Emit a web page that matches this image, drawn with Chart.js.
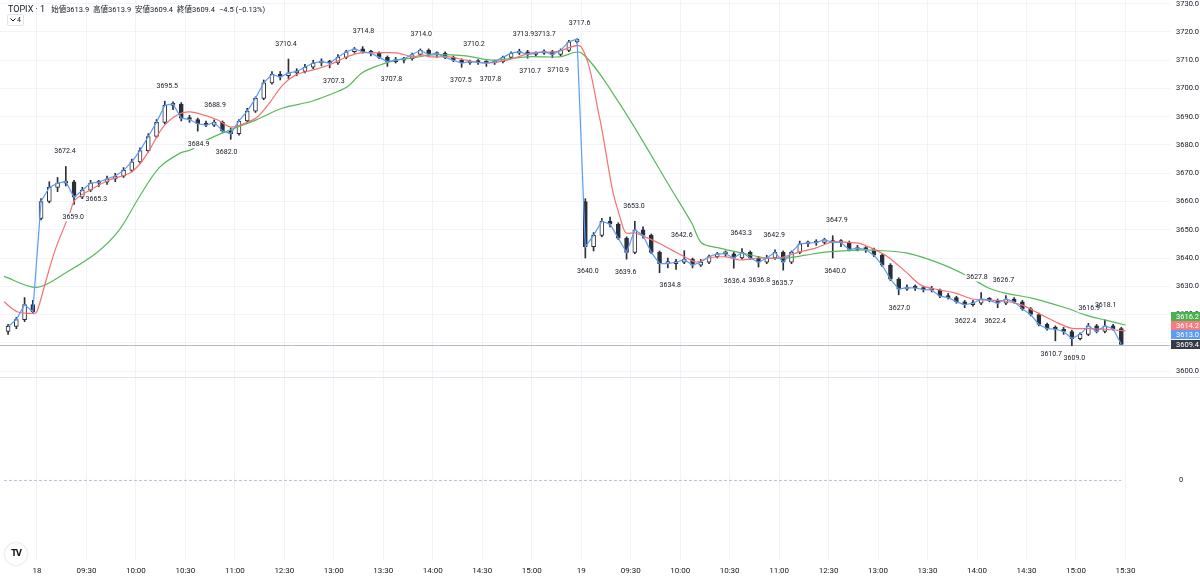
<!DOCTYPE html>
<html>
<head>
<meta charset="utf-8">
<script src="https://cdn.jsdelivr.net/npm/chart.js@4.4.1/dist/chart.umd.min.js"></script>
<style>
html, body { margin: 0; padding: 0; background: #ffffff; }
#wrap { position: relative; width: 1200px; height: 584px; overflow: hidden; }
#chart { position: absolute; left: 0; top: 0; }
#legend { position: absolute; left: 8px; top: 3px; font-family: Roboto, "Noto Sans CJK JP", sans-serif; font-size: 7.5px; color: #131722; white-space: nowrap; }
#legend .sym { font-size: 9px; margin-right: 6px; }
#legend .k { color: #131722; }
#legend .v { color: #131722; margin-right: 2px; }
#fold { position: absolute; left: 7px; top: 14px; width: 15px; height: 10px; border: 1px solid #e0e3eb; border-radius: 2px; font: 7px Roboto, sans-serif; color: #131722; line-height: 10px; }
#fold svg { position: absolute; left: 2px; top: 3px; }
#fold span { position: absolute; left: 9px; top: 0; }
#logo { position: absolute; left: 5px; top: 543px; width: 22px; height: 22px; border-radius: 50%; background: #fff; box-shadow: 0 0 2px rgba(0,0,0,0.25); font: bold 8px "DejaVu Sans", sans-serif; color: #131722; text-align: center; line-height: 22px; letter-spacing: -1px; }
</style>
</head>
<body>
<div id="wrap">
  <canvas id="chart" width="1200" height="584"></canvas>
  <div id="legend"><span class="sym">TOPIX · 1</span><span class="k">始値</span><span class="v">3613.9</span> <span class="k">高値</span><span class="v">3613.9</span> <span class="k">安値</span><span class="v">3609.4</span> <span class="k">終値</span><span class="v">3609.4</span> <span class="v">−4.5 (−0.13%)</span></div>
  <div id="fold"><svg width="6" height="4"><polyline points="0.5,0.5 3,3 5.5,0.5" fill="none" stroke="#131722" stroke-width="1"/></svg><span>4</span></div>
  <div id="logo">TV</div>
</div>
<script>
const Chart = window.Chart;

// time axis: minutes of trading from 18th 09:00, one slot = 30 min (lunch break squeezed out)
var tickLabels = ['18', '09:30', '10:00', '10:30', '11:00', '12:30', '13:00', '13:30', '14:00', '14:30', '15:00',
    '19', '09:30', '10:00', '10:30', '11:00', '12:30', '13:00', '13:30', '14:00', '14:30', '15:00', '15:30'];
var priceTicks = [3600, 3610, 3620, 3630, 3640, 3650, 3660, 3670, 3680, 3690, 3700, 3710, 3720, 3730];

// 5-minute candles [open, high, low, close]
var dayStarts = [-20, 0, 330];
var day17 = [
    [3614.0, 3616.5, 3613.0, 3615.8], [3615.8, 3619.0, 3615.0, 3618.2], [3618.2, 3626.0, 3617.5, 3623.5], [3623.5, 3625.0, 3620.5, 3621.0]
];
var day18 = [
    [3654.0, 3661.0, 3653.5, 3660.0], [3660.0, 3667.0, 3659.5, 3665.0], [3665.0, 3668.5, 3663.5, 3666.5], [3666.5, 3672.4, 3665.5, 3667.0],
    [3667.0, 3667.5, 3659.0, 3661.5], [3661.5, 3665.0, 3661.0, 3664.0], [3664.0, 3667.5, 3663.5, 3666.5], [3666.5, 3667.5, 3665.3, 3666.8],
    [3666.8, 3669.0, 3666.0, 3668.0], [3668.0, 3670.0, 3667.0, 3669.0], [3669.0, 3672.0, 3668.5, 3671.0], [3671.0, 3675.0, 3670.5, 3674.0],
    [3674.0, 3679.0, 3673.5, 3678.0], [3678.0, 3684.0, 3677.5, 3683.0], [3683.0, 3689.0, 3682.5, 3688.0], [3688.0, 3695.5, 3687.5, 3694.0],
    [3694.0, 3695.3, 3692.5, 3694.5], [3694.5, 3695.0, 3688.5, 3689.5], [3689.5, 3690.5, 3688.0, 3689.0], [3689.0, 3689.5, 3684.9, 3687.5],
    [3687.5, 3688.5, 3686.5, 3687.0], [3687.0, 3688.9, 3686.5, 3688.0], [3688.0, 3688.5, 3684.5, 3685.0], [3685.0, 3686.0, 3682.0, 3684.0],
    [3684.0, 3689.0, 3683.5, 3688.5], [3688.5, 3693.0, 3688.0, 3692.0], [3692.0, 3697.0, 3691.5, 3696.5], [3696.5, 3703.0, 3696.0, 3702.0],
    [3702.0, 3706.0, 3701.5, 3705.0], [3705.0, 3706.0, 3703.0, 3704.0], [3704.5, 3710.4, 3703.5, 3705.5], [3705.5, 3707.0, 3704.5, 3706.0],
    [3706.0, 3708.5, 3705.5, 3707.5], [3707.5, 3710.0, 3707.0, 3709.0], [3709.0, 3710.5, 3708.0, 3709.5], [3709.5, 3710.0, 3707.3, 3709.0],
    [3709.0, 3712.0, 3708.5, 3711.0], [3711.0, 3713.5, 3710.5, 3713.0], [3713.0, 3714.5, 3712.5, 3714.0], [3714.0, 3714.8, 3712.5, 3713.0],
    [3713.0, 3713.5, 3711.5, 3712.5], [3712.5, 3713.0, 3710.5, 3711.0], [3711.0, 3711.5, 3707.8, 3709.5], [3709.5, 3711.0, 3709.0, 3710.0],
    [3710.0, 3711.0, 3709.0, 3710.5], [3710.5, 3712.5, 3710.0, 3712.0], [3712.0, 3714.0, 3711.5, 3713.5], [3713.5, 3714.0, 3711.5, 3712.0],
    [3712.0, 3713.0, 3711.0, 3712.5], [3712.5, 3713.0, 3710.5, 3711.0], [3711.0, 3711.5, 3709.5, 3710.0], [3710.0, 3710.5, 3707.5, 3709.0],
    [3709.0, 3710.0, 3708.5, 3709.5], [3709.5, 3710.2, 3708.5, 3709.2], [3709.2, 3709.8, 3707.8, 3709.0], [3709.0, 3710.0, 3708.5, 3709.5],
    [3709.5, 3711.5, 3709.0, 3711.0], [3711.0, 3713.0, 3710.5, 3712.5], [3712.5, 3713.9, 3712.0, 3713.0], [3713.0, 3713.5, 3710.7, 3712.0],
    [3712.0, 3713.0, 3711.5, 3712.5], [3712.5, 3713.7, 3712.0, 3713.0], [3713.0, 3713.5, 3710.9, 3712.0], [3712.0, 3714.0, 3711.5, 3713.5],
    [3713.5, 3717.0, 3713.0, 3716.5], [3716.5, 3717.6, 3716.0, 3717.5]
];
var day19 = [
    [3660.0, 3661.0, 3640.0, 3644.0], [3644.0, 3649.0, 3642.5, 3648.0], [3648.0, 3654.0, 3647.5, 3653.0], [3653.0, 3654.5, 3651.0, 3652.0],
    [3652.0, 3652.5, 3646.5, 3647.0], [3647.0, 3647.5, 3639.6, 3642.0], [3642.0, 3653.0, 3641.5, 3650.0], [3650.0, 3651.0, 3647.0, 3648.0],
    [3648.0, 3648.5, 3641.5, 3642.0], [3642.0, 3642.5, 3634.8, 3638.0], [3638.0, 3640.0, 3636.5, 3638.0], [3638.0, 3639.5, 3636.0, 3638.5],
    [3638.5, 3642.6, 3638.0, 3639.5], [3639.5, 3640.0, 3636.5, 3637.5], [3637.5, 3639.5, 3637.0, 3638.5], [3638.5, 3641.0, 3638.0, 3640.5],
    [3640.5, 3642.0, 3640.0, 3641.5], [3641.5, 3642.5, 3640.5, 3641.5], [3641.5, 3642.0, 3636.4, 3640.0], [3640.0, 3643.3, 3639.5, 3642.0],
    [3642.0, 3642.5, 3639.5, 3640.0], [3640.0, 3640.5, 3636.8, 3638.5], [3638.5, 3641.0, 3638.0, 3640.0], [3640.0, 3642.9, 3639.5, 3642.0],
    [3642.0, 3642.5, 3635.7, 3638.5], [3638.5, 3642.5, 3638.0, 3642.0], [3642.0, 3646.0, 3641.5, 3645.0], [3645.0, 3646.0, 3644.0, 3645.3],
    [3645.3, 3646.5, 3644.5, 3645.5], [3645.5, 3647.0, 3645.0, 3646.5], [3646.0, 3647.9, 3640.0, 3645.5], [3645.5, 3646.5, 3644.0, 3645.5],
    [3645.5, 3646.0, 3642.5, 3643.0], [3643.0, 3644.5, 3642.5, 3643.5], [3643.5, 3644.0, 3642.0, 3643.0], [3643.0, 3643.5, 3640.5, 3641.0],
    [3641.0, 3641.5, 3637.0, 3637.5], [3637.5, 3638.0, 3632.0, 3632.5], [3632.5, 3633.0, 3627.0, 3629.0], [3629.0, 3630.5, 3628.5, 3629.5],
    [3629.5, 3630.5, 3628.5, 3629.4], [3629.4, 3630.0, 3628.0, 3628.8], [3628.8, 3630.0, 3628.0, 3628.7], [3628.7, 3629.0, 3626.0, 3626.5],
    [3626.5, 3627.5, 3625.5, 3626.0], [3626.0, 3626.5, 3624.0, 3624.5], [3624.5, 3625.0, 3622.4, 3623.5], [3623.5, 3625.0, 3623.0, 3624.0],
    [3624.0, 3627.8, 3623.5, 3625.5], [3625.5, 3626.0, 3624.5, 3625.0], [3625.0, 3625.5, 3622.4, 3624.0], [3624.0, 3626.7, 3623.5, 3625.5],
    [3625.5, 3626.0, 3624.0, 3624.5], [3624.5, 3625.0, 3621.5, 3622.0], [3622.0, 3622.5, 3619.5, 3620.0], [3620.0, 3620.5, 3616.0, 3616.5],
    [3616.5, 3617.0, 3614.5, 3615.0], [3615.0, 3616.0, 3610.7, 3614.8], [3614.8, 3615.5, 3613.0, 3614.0], [3614.0, 3614.5, 3609.0, 3611.5],
    [3611.5, 3613.5, 3611.0, 3613.0], [3613.0, 3616.9, 3612.5, 3616.0], [3616.0, 3616.5, 3613.5, 3614.0], [3614.0, 3618.1, 3613.5, 3616.0],
    [3616.0, 3616.5, 3614.5, 3615.0], [3615.0, 3615.5, 3609.4, 3609.4]
];

// moving averages (minute, value)
var redTimes = [-20, -12, -2, 0, 5, 11, 20, 23, 32, 44, 56, 62, 68, 76, 85, 93, 109, 117, 123, 133, 141, 149, 157, 167, 177, 188,
    196, 206, 218, 228, 234, 238, 250, 260, 272, 285, 300, 315, 330, 341, 349, 354, 357, 363, 369, 377, 385, 394, 400, 407, 418,
    426, 438, 450, 462, 472, 482, 486, 498, 506, 516, 527, 536, 547, 557, 567, 577, 587, 597, 607, 618, 627, 638, 648, 660];
var redValues = [3624.5, 3621.0, 3620.4, 3621.0, 3631.0, 3642.8, 3656.0, 3660.5, 3664.0, 3667.6, 3670.0, 3673.0, 3678.0, 3686.0,
    3690.6, 3691.7, 3689.0, 3686.4, 3687.0, 3689.6, 3694.9, 3701.2, 3704.8, 3706.5, 3708.3, 3711.2, 3712.6, 3712.6, 3712.6, 3711.2,
    3711.9, 3711.2, 3711.2, 3710.0, 3709.0, 3710.0, 3712.6, 3713.0, 3714.7, 3690.0, 3664.0, 3653.5, 3649.0, 3648.8, 3647.4, 3645.3,
    3642.8, 3640.0, 3638.6, 3640.0, 3640.4, 3639.3, 3640.0, 3640.0, 3642.1, 3643.5, 3645.7, 3645.7, 3645.3, 3643.5, 3640.4, 3635.0,
    3630.4, 3628.7, 3627.6, 3625.5, 3625.1, 3624.8, 3623.4, 3620.5, 3617.3, 3615.2, 3615.0, 3614.8, 3614.2];
var greenTimes = [-20, 0, 18, 36, 50, 62, 74, 87, 93, 103, 117, 133, 149, 165, 177, 188, 197, 208, 218, 228, 240, 260, 276, 297,
    317, 330, 353, 385, 397, 403, 414, 427, 442, 454, 466, 478, 498, 506, 527, 547, 563, 577, 587, 603, 624, 636, 648, 660];
var greenValues = [3633.5, 3629.6, 3635.0, 3641.8, 3650.0, 3661.6, 3671.9, 3677.2, 3678.2, 3681.8, 3685.3, 3688.9, 3693.1, 3695.2,
    3697.7, 3700.5, 3705.5, 3708.3, 3710.0, 3710.8, 3711.9, 3711.5, 3710.0, 3711.2, 3711.2, 3712.6, 3694.9, 3664.0, 3652.4, 3645.3,
    3643.5, 3641.8, 3640.0, 3640.0, 3641.0, 3642.1, 3642.8, 3642.8, 3641.8, 3638.2, 3634.0, 3629.4, 3627.6, 3625.8, 3622.3, 3619.8,
    3618.0, 3616.3];

// high / low markers
var highTimes = [17, 79, 108, 151, 198, 233, 265, 295, 308, 329, 362, 391, 427, 447, 485, 570, 586, 638, 648];
var highValues = [3672.4, 3695.5, 3688.9, 3710.4, 3714.8, 3714.0, 3710.2, 3713.9, 3713.7, 3717.6, 3653.0, 3642.6, 3643.3, 3642.9,
    3647.9, 3627.8, 3626.7, 3616.9, 3618.1];
var lowTimes = [22, 36, 98, 115, 180, 215, 257, 275, 299, 316, 334, 357, 384, 423, 438, 452, 484, 523, 563, 581, 615, 629];
var lowValues = [3659.0, 3665.3, 3684.9, 3682.0, 3707.3, 3707.8, 3707.5, 3707.8, 3710.7, 3710.9, 3640.0, 3639.6, 3634.8, 3636.4,
    3636.8, 3635.7, 3640.0, 3627.0, 3622.4, 3622.4, 3610.7, 3609.0];

// last-value tags on the price scale
var tagValues = [3616.2, 3614.2, 3613.0, 3609.4];
var tagColors = ['#4caf50', '#f77c80', '#5b9cf6', '#363a45'];
var lastPrice = 3609.4;

var fontFamily = 'Roboto, "Liberation Sans", sans-serif';
var candleDark = '#2a2e39';

var candles = [];
[day17, day18, day19].forEach(function (day, d) {
    day.forEach(function (c, i) {
        candles.push({ t: dayStarts[d] + i * 5 + 2.5, o: c[0], h: c[1], l: c[2], c: c[3] });
    });
});
var toPoints = function (times, values) {
    return times.map(function (t, i) { return { x: t, y: values[i] }; });
};
var noPad = function (s) {
    s.paddingTop = 0;
    s.paddingBottom = 0;
    s.paddingLeft = 0;
    s.paddingRight = 0;
};

var overlay = {
    id: 'overlay',
    beforeDatasetsDraw: function (chart) {
        var ctx = chart.ctx, area = chart.chartArea, y = chart.scales.y;
        var py = Math.round(y.getPixelForValue(lastPrice)) + 0.5;
        ctx.save();
        ctx.strokeStyle = '#b8bbc4';
        ctx.lineWidth = 1;
        ctx.beginPath();
        ctx.moveTo(area.left, py);
        ctx.lineTo(area.right, py);
        ctx.stroke();
        ctx.restore();
    },
    afterDatasetsDraw: function (chart) {
        var ctx = chart.ctx, x = chart.scales.x, y = chart.scales.y;
        ctx.save();
        ctx.font = '7px ' + fontFamily;
        ctx.textAlign = 'center';
        ctx.textBaseline = 'middle';
        var marks = [];
        highTimes.forEach(function (t, i) { marks.push([t, highValues[i], -15]); });
        lowTimes.forEach(function (t, i) { marks.push([t, lowValues[i], 13]); });
        marks.forEach(function (m) {
            var w = ctx.measureText(m[1].toFixed(1)).width + 2;
            ctx.fillStyle = '#ffffff';
            ctx.fillRect(x.getPixelForValue(m[0]) - w / 2, y.getPixelForValue(m[1]) + m[2] - 4, w, 8);
        });
        ctx.fillStyle = '#131722';
        marks.forEach(function (m) {
            ctx.fillText(m[1].toFixed(1), x.getPixelForValue(m[0]), y.getPixelForValue(m[1]) + m[2]);
        });
        ctx.restore();
    },
    afterDraw: function (chart) {
        var ctx = chart.ctx, area = chart.chartArea, y = chart.scales.y, y2 = chart.scales.y2;
        ctx.save();
        // pane separator
        var sy = Math.round(y2.top) + 0.5;
        ctx.strokeStyle = '#e0e3eb';
        ctx.lineWidth = 1;
        ctx.beginPath();
        ctx.moveTo(0, sy);
        ctx.lineTo(chart.width, sy);
        ctx.stroke();
        // value tags, pushed apart from the bottom up
        var h = 9;
        var ys = tagValues.map(function (v) { return y.getPixelForValue(v); });
        for (var i = ys.length - 2; i >= 0; i--) {
            if (ys[i] > ys[i + 1] - h) ys[i] = ys[i + 1] - h;
        }
        ctx.font = '7.5px ' + fontFamily;
        ctx.textAlign = 'left';
        ctx.textBaseline = 'middle';
        tagValues.forEach(function (v, i) {
            ctx.fillStyle = tagColors[i];
            ctx.fillRect(area.right + 1, Math.round(ys[i] - h / 2), chart.width - area.right - 1, h);
            ctx.fillStyle = '#ffffff';
            ctx.fillText(v.toFixed(1), area.right + 6, ys[i] + 0.5);
        });
        ctx.restore();
    }
};

var ctx = document.getElementById('chart').getContext('2d');
var chart = new Chart(ctx, {
    type: 'bar',
    data: {
        datasets: [{
            type: 'line',
            data: candles.map(function (k) { return { x: k.t, y: k.c }; }),
            borderColor: '#5b9cf6',
            borderWidth: 1.2,
            pointRadius: 0,
            tension: 0,
            order: 0,
        }, {
            type: 'line',
            data: toPoints(redTimes, redValues),
            borderColor: '#f4716f',
            borderWidth: 1.2,
            pointRadius: 0,
            tension: 0.3,
            order: 0,
        }, {
            type: 'line',
            data: toPoints(greenTimes, greenValues),
            borderColor: '#59b85c',
            borderWidth: 1.2,
            pointRadius: 0,
            tension: 0.3,
            order: 0,
        }, {
            data: candles.map(function (k) { return { x: k.t, y: [Math.min(k.o, k.c), Math.max(k.o, k.c)] }; }),
            backgroundColor: function (c) {
                var k = candles[c.dataIndex];
                return k && k.c >= k.o ? '#ffffff' : candleDark;
            },
            borderColor: candleDark,
            borderWidth: 1,
            borderSkipped: false,
            barThickness: 4,
            minBarLength: 2,
            grouped: false,
            order: 1,
        }, {
            data: candles.map(function (k) { return { x: k.t, y: [k.l, k.h] }; }),
            backgroundColor: candleDark,
            barThickness: 1,
            grouped: false,
            order: 2,
        }, {
            type: 'line',
            yAxisID: 'y2',
            data: [{ x: candles[0].t - 2.5, y: 0 }, { x: candles[candles.length - 1].t, y: 0 }],
            borderColor: '#b3c0d9',
            borderWidth: 1,
            borderDash: [3, 2],
            pointRadius: 0,
            order: 0,
        }]
    },
    options: {
        animation: false,
        responsive: false,
        layout: { padding: 0 },
        plugins: {
            legend: { display: false },
            tooltip: { enabled: false },
        },
        scales: {
            x: {
                type: 'linear',
                min: -22.4,
                max: 687,
                offset: false,
                afterBuildTicks: function (s) {
                    s.ticks = tickLabels.map(function (_, k) { return { value: k * 30 }; });
                },
                afterFit: function (s) { s.height = 24; noPad(s); },
                grid: { color: '#f0f3fa', drawTicks: false, offset: false },
                border: { display: false },
                ticks: {
                    autoSkip: false,
                    maxRotation: 0,
                    padding: 6,
                    color: '#131722',
                    font: { size: 8, family: fontFamily },
                    callback: function (v, i) { return tickLabels[i]; },
                },
            },
            y: {
                type: 'linear',
                position: 'right',
                stack: 'panes',
                stackWeight: 377,
                min: 3597.9,
                max: 3731.3,
                afterBuildTicks: function (s) {
                    s.ticks = priceTicks.map(function (v) { return { value: v }; });
                },
                afterFit: function (s) { s.width = 30; noPad(s); },
                grid: { color: '#f0f3fa', drawTicks: false },
                border: { display: false },
                ticks: {
                    padding: 6,
                    color: '#131722',
                    font: { size: 7.5, family: fontFamily },
                    callback: function (v) { return v.toFixed(1); },
                },
            },
            y2: {
                type: 'linear',
                position: 'right',
                stack: 'panes',
                stackWeight: 183,
                min: -1,
                max: 1.3,
                afterBuildTicks: function (s) { s.ticks = [{ value: 0 }]; },
                afterFit: function (s) { s.width = 30; noPad(s); },
                grid: { display: false, drawTicks: false },
                border: { display: false },
                ticks: {
                    padding: 9,
                    color: '#131722',
                    font: { size: 7.5, family: fontFamily },
                },
            },
        },
    },
    plugins: [overlay],
});
</script>
</body>
</html>
